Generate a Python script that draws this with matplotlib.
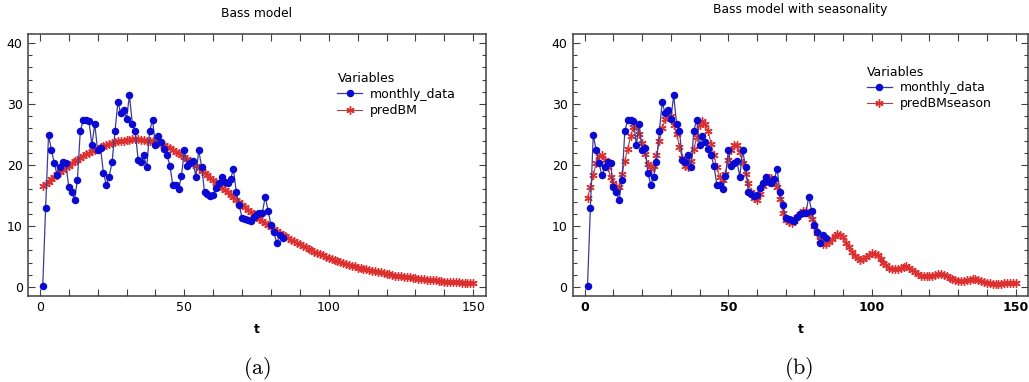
import matplotlib

matplotlib.use("Agg")
import matplotlib.pyplot as plt
from matplotlib.ticker import MultipleLocator, FuncFormatter

# monthly observations, t = 1..84
monthly_data = [
    0.2, 13.0, 24.9, 22.5, 20.3, 18.3, 19.6, 20.5, 20.3, 16.4,
    15.5, 14.3, 17.6, 25.6, 27.3, 27.4, 27.2, 23.3, 26.7, 22.4,
    22.8, 18.7, 16.8, 18.1, 20.5, 25.5, 30.3, 28.5, 29.0, 27.6,
    31.4, 26.8, 25.6, 20.9, 20.5, 21.6, 19.6, 25.6, 27.4, 23.2,
    24.7, 23.7, 22.7, 21.6, 19.9, 16.8, 16.8, 16.0, 18.2, 22.4,
    19.8, 20.3, 20.6, 18.1, 22.4, 19.7, 15.5, 15.2, 15.0, 15.1,
    16.3, 17.0, 18.0, 17.2, 17.0, 17.7, 19.3, 15.5, 13.4, 11.3,
    11.1, 11.0, 10.9, 11.5, 12.0, 12.1, 12.2, 14.8, 12.5, 10.2,
    9.0, 7.2, 8.5, 8.1,
]

# fitted Bass model, t = 1..150
predBM = [
    16.5, 16.9, 17.3, 17.7, 18.1, 18.5, 18.9, 19.2, 19.6, 19.9,
    20.3, 20.6, 20.9, 21.2, 21.5, 21.8, 22.0, 22.3, 22.5, 22.7,
    22.9, 23.1, 23.3, 23.5, 23.6, 23.7, 23.9, 24.0, 24.0, 24.1,
    24.1, 24.2, 24.2, 24.2, 24.1, 24.1, 24.0, 24.0, 23.9, 23.7,
    23.6, 23.4, 23.2, 23.0, 22.8, 22.5, 22.2, 21.9, 21.6, 21.3,
    21.0, 20.6, 20.3, 19.9, 19.5, 19.1, 18.7, 18.3, 17.9, 17.5,
    17.1, 16.7, 16.3, 15.9, 15.5, 15.1, 14.7, 14.3, 13.9, 13.5,
    13.1, 12.7, 12.3, 12.0, 11.6, 11.2, 10.9, 10.5, 10.2, 9.9,
    9.5, 9.2, 8.9, 8.6, 8.3, 8.0, 7.8, 7.5, 7.2, 7.0,
    6.7, 6.5, 6.2, 6.0, 5.8, 5.6, 5.4, 5.2, 5.0, 4.8,
    4.6, 4.4, 4.3, 4.1, 3.9, 3.8, 3.6, 3.5, 3.4, 3.2,
    3.1, 3.0, 2.9, 2.8, 2.7, 2.6, 2.5, 2.4, 2.3, 2.2,
    2.1, 2.0, 1.9, 1.9, 1.8, 1.7, 1.6, 1.6, 1.5, 1.5,
    1.4, 1.3, 1.3, 1.2, 1.2, 1.1, 1.1, 1.0, 1.0, 0.9,
    0.9, 0.9, 0.8, 0.8, 0.8, 0.7, 0.7, 0.7, 0.6, 0.6,
]

# Bass model with seasonal component, t = 1..150
predBMseason = [
    14.6, 16.4, 18.3, 20.3, 21.4, 21.6, 20.9, 19.7, 18.0, 17.0,
    16.4, 16.4, 18.5, 20.7, 22.7, 24.7, 26.3, 26.4, 25.1, 23.6,
    21.8, 20.2, 19.4, 19.9, 21.6, 23.9, 26.0, 27.5, 28.3, 28.0,
    26.6, 25.1, 23.0, 21.1, 19.9, 19.7, 20.6, 22.6, 24.6, 26.6,
    27.2, 26.8, 25.5, 23.5, 21.6, 19.6, 18.0, 17.6, 18.5, 20.8,
    22.5, 23.3, 23.2, 22.2, 20.3, 18.6, 17.0, 15.6, 14.6, 14.2,
    15.2, 16.6, 17.5, 17.9, 17.9, 17.3, 16.4, 14.4, 12.2, 11.0,
    10.6, 10.5, 10.8, 11.5, 12.0, 12.4, 12.5, 12.0, 11.2, 10.0,
    8.9, 7.8, 7.1, 7.0, 7.4, 7.9, 8.4, 8.7, 8.6, 8.2,
    7.3, 6.5, 5.8, 5.1, 4.7, 4.5, 4.6, 4.9, 5.3, 5.6,
    5.5, 5.2, 4.6, 4.0, 3.6, 3.2, 2.9, 2.9, 2.9, 3.1,
    3.3, 3.4, 3.2, 2.8, 2.5, 2.2, 1.9, 1.8, 1.8, 1.8,
    1.9, 2.0, 2.1, 2.1, 2.0, 1.8, 1.5, 1.3, 1.1, 1.0,
    1.0, 1.0, 1.1, 1.2, 1.3, 1.3, 1.2, 1.0, 0.8, 0.7,
    0.6, 0.5, 0.5, 0.5, 0.5, 0.6, 0.6, 0.7, 0.7, 0.7,
]

t_data = list(range(1, len(monthly_data) + 1))
t_pred = list(range(1, len(predBM) + 1))

BLUE = "#0a0ad2"
BLUE_LINE = "#3c3c96"
RED = "#dc3030"
RED_LINE = "#b04040"
SPINE = "#404040"


def style_axes(ax, bold_x=False):
    ax.set_xlim(-4, 154.3)
    ax.set_ylim(-1.4, 41.4)
    ax.xaxis.set_major_locator(MultipleLocator(10))
    ax.xaxis.set_major_formatter(
        FuncFormatter(lambda v, _: f"{v:.0f}" if round(v) % 50 == 0 else "")
    )
    ax.yaxis.set_major_locator(MultipleLocator(10))
    ax.yaxis.set_minor_locator(MultipleLocator(2))
    ax.tick_params(which="both", direction="in", top=True, right=True,
                   color=SPINE, labelsize=9, pad=4)
    ax.tick_params(which="major", length=5, width=0.8)
    ax.tick_params(which="minor", length=3, width=0.8)
    for s in ax.spines.values():
        s.set_color(SPINE)
        s.set_linewidth(1.1)
    if bold_x:
        for lab in ax.get_xticklabels():
            lab.set_fontweight("bold")
    ax.set_xlabel("t", fontsize=9, fontweight="bold", labelpad=6)


def draw(ax, pred, pred_label, title, title_y, leg_anchor, bold_x):
    ax.plot(t_pred, pred, color=RED_LINE, lw=0.8, marker=(6, 2, 0),
            markersize=6, markeredgecolor=RED, markeredgewidth=1.0,
            label=pred_label, zorder=2)
    ax.plot(t_data, monthly_data, color=BLUE_LINE, lw=0.9, marker="o",
            markersize=4.4, markerfacecolor=BLUE, markeredgecolor=BLUE,
            label="monthly_data", zorder=3)
    style_axes(ax, bold_x)
    ax.set_title(title, fontsize=8.8, y=title_y)
    handles, labels = ax.get_legend_handles_labels()
    leg = ax.legend(handles[::-1], labels[::-1], title="Variables",
                    loc="upper left", bbox_to_anchor=leg_anchor,
                    frameon=False, fontsize=9, title_fontsize=9,
                    handlelength=2.0, handletextpad=0.6, labelspacing=0.25,
                    borderaxespad=0, alignment="left")
    leg._legend_box.sep = 2


fig = plt.figure(figsize=(10.29, 3.82), dpi=100)
ax_a = fig.add_axes([0.0275, 0.226, 0.4445, 0.684])
ax_b = fig.add_axes([0.557, 0.226, 0.442, 0.684])

draw(ax_a, predBM, "predBM", "Bass model", 1.035, (0.665, 0.875), False)
draw(ax_b, predBMseason, "predBMseason", "Bass model with seasonality",
     1.05, (0.635, 0.9), True)

plt.rcParams["mathtext.fontset"] = "cm"
fig.text(0.25, 0.035, r"$\mathrm{(a)}$", ha="center", va="center", fontsize=16)
fig.text(0.776, 0.035, r"$\mathrm{(b)}$", ha="center", va="center", fontsize=16)

fig.savefig("out.png", dpi=100)
